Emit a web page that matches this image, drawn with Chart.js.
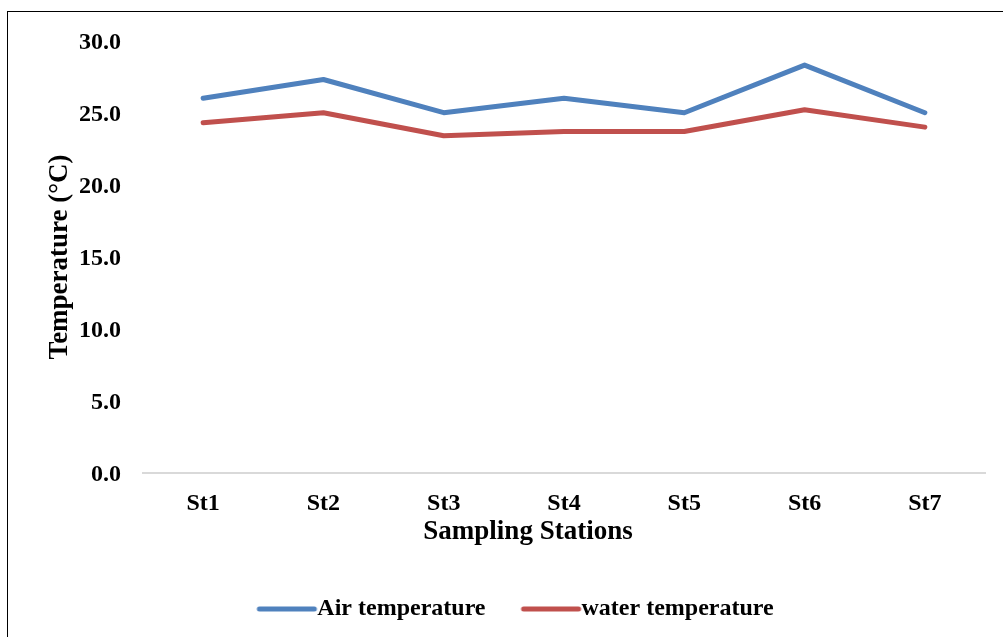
<!DOCTYPE html>
<html>
<head>
<meta charset="utf-8">
<script src="https://cdn.jsdelivr.net/npm/chart.js@4"></script>
<style>
  html, body { margin: 0; padding: 0; background: #fff; }
  #wrap { position: relative; width: 1003px; height: 637px; overflow: hidden; }
  #frame { position: absolute; left: 7px; top: 11px; width: 1100px; height: 700px; border-left: 1.5px solid #000; border-top: 1.5px solid #000; pointer-events: none; }
  canvas { position: absolute; left: 0; top: 0; }
</style>
</head>
<body>
<div id="wrap">
  <canvas id="c" width="1003" height="637"></canvas>
  <div id="frame"></div>
</div>
<script>
const stations = ["St1", "St2", "St3", "St4", "St5", "St6", "St7"];
const airTemperature = [26.0, 27.3, 25.0, 26.0, 25.0, 28.3, 25.0];
const waterTemperature = [24.3, 25.0, 23.4, 23.7, 23.7, 25.2, 24.0];
const yTitle = "Temperature (°C)";
const xTitle = "Sampling Stations";
const seriesNames = ["Air temperature", "water temperature"];
const seriesColors = ['#4F81BD', '#C0504D'];

const FONT = "'Liberation Serif', 'Times New Roman', serif";

// legend line symbol: 55px line drawn towards the right of a symmetric image
function legendSymbol(color) {
  const c = document.createElement('canvas');
  c.width = 100; c.height = 10;
  const g = c.getContext('2d');
  g.strokeStyle = color; g.lineWidth = 5; g.lineCap = 'round';
  g.beginPath(); g.moveTo(41, 5); g.lineTo(96, 5); g.stroke();
  return c;
}
const symbols = seriesColors.map(legendSymbol);

const xTitlePlugin = {
  id: 'xTitlePlugin',
  afterDraw(chart) {
    const {ctx, chartArea} = chart;
    ctx.save();
    ctx.font = "bold 27px " + FONT;
    ctx.fillStyle = '#000';
    ctx.textAlign = 'center';
    ctx.textBaseline = 'middle';
    ctx.fillText(xTitle, (chartArea.left + chartArea.right) / 2 - 36, chartArea.bottom + 59);
    ctx.restore();
  }
};

new Chart(document.getElementById('c'), {
  type: 'line',
  data: {
    labels: stations,
    datasets: [
      { label: seriesNames[0], data: airTemperature, borderColor: seriesColors[0], backgroundColor: seriesColors[0],
        borderWidth: 5, pointRadius: 0, pointHoverRadius: 0, tension: 0, borderCapStyle: 'round', borderJoinStyle: 'round' },
      { label: seriesNames[1], data: waterTemperature, borderColor: seriesColors[1], backgroundColor: seriesColors[1],
        borderWidth: 5, pointRadius: 0, pointHoverRadius: 0, tension: 0, borderCapStyle: 'round', borderJoinStyle: 'round' }
    ]
  },
  plugins: [xTitlePlugin],
  options: {
    responsive: false,
    animation: false,
    layout: { padding: { left: 20, right: 18, top: 40.6, bottom: 6 } },
    plugins: {
      tooltip: { enabled: false },
      legend: {
        position: 'bottom',
        labels: {
          usePointStyle: true,
          pointStyleWidth: 74,
          color: '#000',
          padding: 10,
          font: { family: FONT, size: 24, weight: 'bold' },
          generateLabels(chart) {
            const items = Chart.defaults.plugins.legend.labels.generateLabels(chart);
            items.forEach((it, i) => { it.pointStyle = symbols[i]; });
            return items;
          }
        }
      }
    },
    scales: {
      x: {
        offset: true,
        grid: { display: false, drawTicks: false },
        border: { display: true, color: '#d9d9d9', width: 2 },
        ticks: { color: '#000', padding: 16, font: { family: FONT, size: 24, weight: 'bold' } },
        afterFit(scale) { scale.height += 53; }
      },
      y: {
        min: 0, max: 30,
        grid: { display: false, drawTicks: false },
        border: { display: false },
        ticks: { stepSize: 5, color: '#000', padding: 22, labelOffset: 2, font: { family: FONT, size: 24, weight: 'bold' },
          callback: v => Number(v).toFixed(1) },
        title: { display: true, text: yTitle, color: '#000', padding: { top: 24, bottom: 0 }, font: { family: FONT, size: 27, weight: 'bold' } },
        afterFit(scale) { scale.width = 123; }
      }
    }
  }
});
</script>
</body>
</html>
